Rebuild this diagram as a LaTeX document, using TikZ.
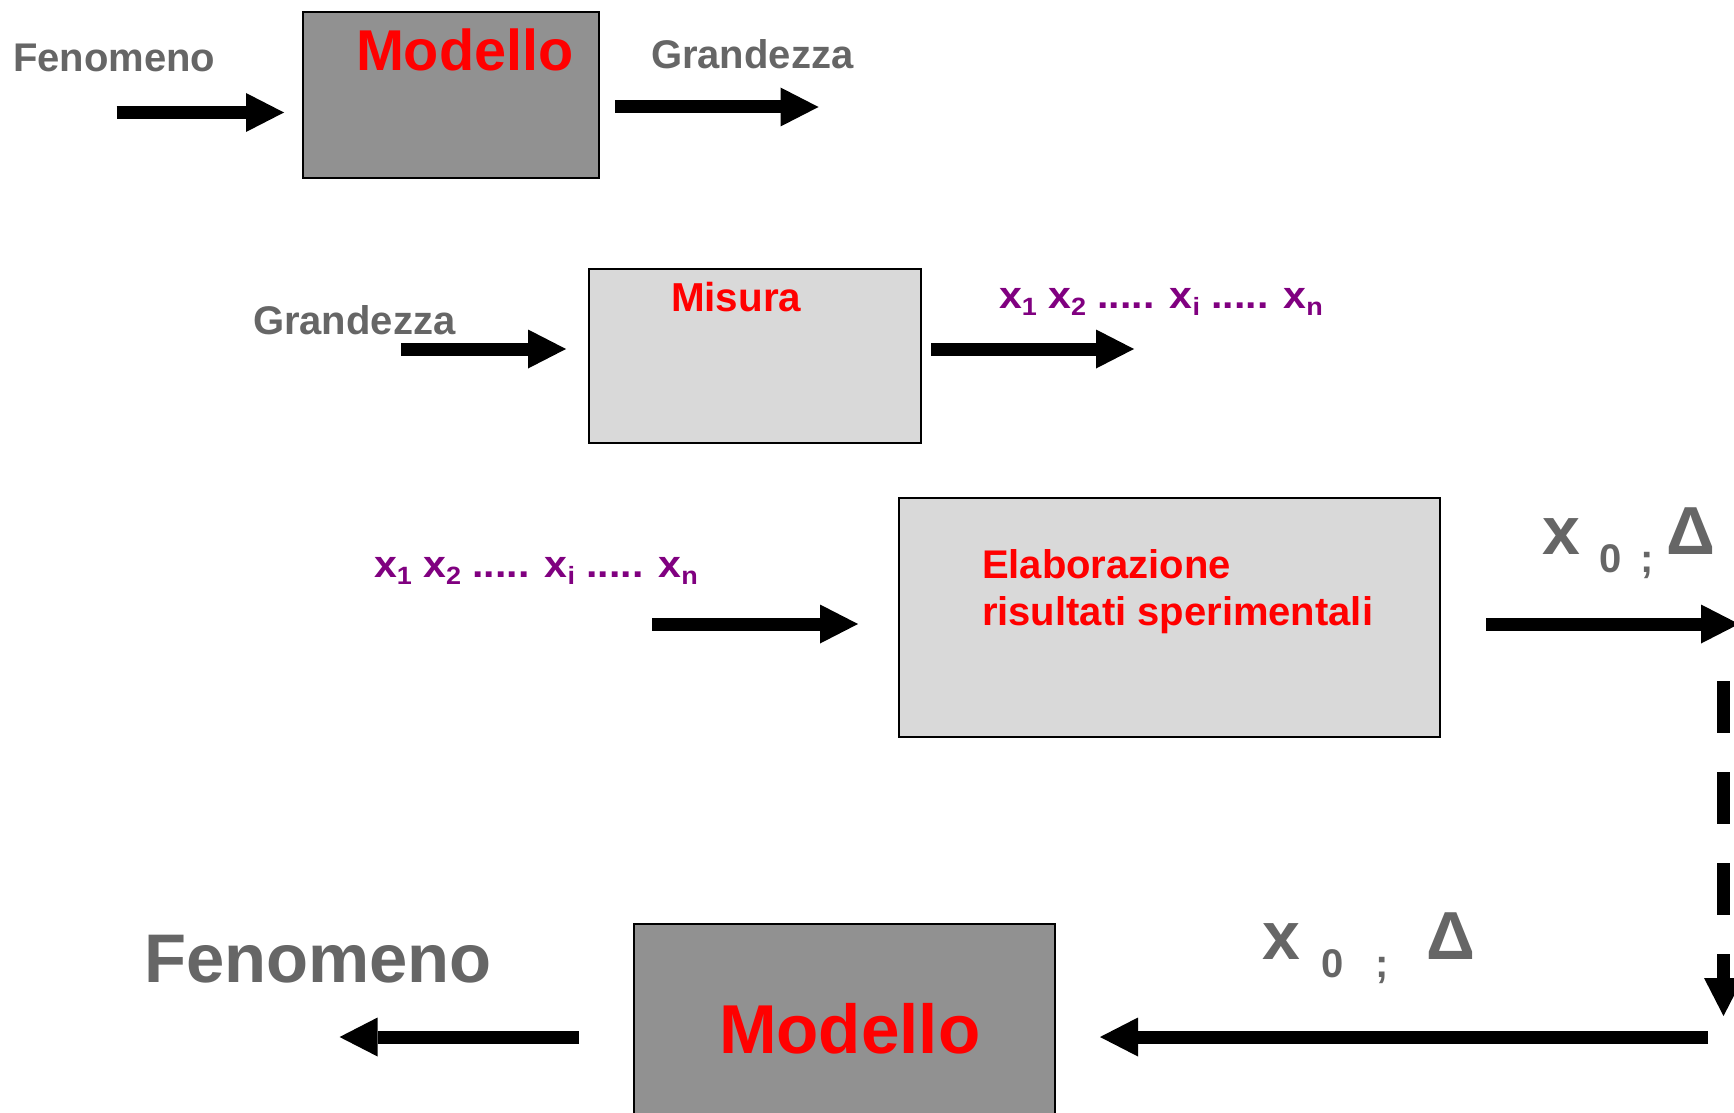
\documentclass[tikz,border=0pt]{standalone}
\usepackage{fontspec}
\setmainfont{Liberation Sans}
\usetikzlibrary{arrows.meta}

\definecolor{txtgray}{HTML}{666666}
\definecolor{boxdark}{HTML}{919191}
\definecolor{boxlight}{HTML}{D9D9D9}
\definecolor{idxpurple}{HTML}{800080}
\definecolor{titlered}{HTML}{FF0000}

% font size in pt, bold sans
\newcommand\fsz[1]{\fontsize{#1pt}{#1pt}\selectfont\bfseries}
% lowered index for the list of readings
\newcommand\idx[1]{\raisebox{-3.5pt}{\fsz{12.5}#1}}

\tikzset{
  darkbox/.style={draw=black, line width=1pt, fill=boxdark, inner sep=0pt},
  lightbox/.style={draw=black, line width=1pt, fill=boxlight, inner sep=0pt},
  lbl/.style={anchor=base west, inner sep=0pt, outer sep=0pt},
  blockarrow/.style={line width=6.5pt,
    -{Triangle[length=19pt, width=19.5pt, line width=0pt]}},
}

\begin{document}
\begin{tikzpicture}[x=0.5pt, y=-0.5pt]
\useasboundingbox (0,0) rectangle (1734,1113);
\clip (0,0) rectangle (1734,1113);
\fill[white] (0,0) rectangle (1734,1113);

% ---- row 1: model of the phenomenon
\node[darkbox, minimum width=148pt, minimum height=83pt] (mod1) at (451,95) {};
\node[lbl, text=titlered, font=\fsz{28.8}] (mod1t) at (356,71) {Modello};
\node[lbl, text=txtgray, font=\fsz{20}] (fen1) at (13,72) {Fenomeno};
\node[lbl, text=txtgray, font=\fsz{20}] (gr1) at (651,69) {Grandezza};
\coordinate (a1s) at (116.5,112.5);
\coordinate (a1e) at (284,112.5);
\coordinate (a2s) at (615,107);
\coordinate (a2e) at (818.5,107);
\draw[blockarrow] (a1s) -- (a1e);
\draw[blockarrow] (a2s) -- (a2e);

% ---- row 2: measurement
\node[lightbox, minimum width=166pt, minimum height=87pt] (mis) at (754.6,356) {};
\node[lbl, text=titlered, font=\fsz{20.2}] (mist) at (671,311) {Misura};
\node[lbl, text=txtgray, font=\fsz{20}] (gr2) at (253,334) {Grandezza};
\node[lbl, text=idxpurple, font=\fsz{19}] (xs1) at (999,308)
  {\scalebox{1.08}[1]{x\idx{1} x\idx{2} ..... x\idx{i} ..... x\idx{n}}};
\coordinate (a3s) at (401,349);
\coordinate (a3e) at (566,349);
\coordinate (a4s) at (931,349);
\coordinate (a4e) at (1134,349);
\draw[blockarrow] (a3s) -- (a3e);
\draw[blockarrow] (a4s) -- (a4e);

% ---- row 3: data processing
\node[lightbox, minimum width=270.5pt, minimum height=119.5pt] (ela) at (1169.5,617.5) {};
\node[lbl, text=titlered, align=left, font={\fontsize{20pt}{23.5pt}\selectfont\bfseries}]
  (elat) at (982,625) {Elaborazione\\risultati sperimentali};
\node[lbl, text=idxpurple, font=\fsz{19}] (xs2) at (374,577)
  {\scalebox{1.08}[1]{x\idx{1} x\idx{2} ..... x\idx{i} ..... x\idx{n}}};
\node[lbl, text=txtgray, font=\fsz{34}] (res1) at (1542,554)
  {x\hspace{10pt}\raisebox{-9pt}{\fsz{20}0\hspace{9pt};}\hspace{6.5pt}Δ};
\coordinate (a5s) at (652,624);
\coordinate (a5e) at (858,624);
\coordinate (a6s) at (1486,624);
\coordinate (a6e) at (1739,624);
\draw[blockarrow] (a5s) -- (a5e);
\draw[blockarrow] (a6s) -- (a6e);

% ---- feedback to the model
\coordinate (dtop) at (1723.5,681);
\coordinate (dbot) at (1723.5,1016);
\draw[blockarrow, dash pattern=on 26pt off 19.5pt] (dtop) -- (dbot);

% ---- row 4: model back to the phenomenon
\node[darkbox, minimum width=210.5pt, minimum height=103pt] (mod2) at (844.5,1027) {};
\node[lbl, text=titlered, font=\fsz{34.6}] (mod2t) at (719,1053) {Modello};
\node[lbl, text=txtgray, font=\fsz{34.4}] (fen2) at (144,982) {Fenomeno};
\node[lbl, text=txtgray, font=\fsz{34}] (res2) at (1262,959)
  {x\hspace{11pt}\raisebox{-9pt}{\fsz{20}0\hspace{15.5pt};}\hspace{19pt}Δ};
\coordinate (a7s) at (1708,1037);
\coordinate (a7e) at (1100,1037);
\coordinate (a8s) at (579,1037);
\coordinate (a8e) at (339.6,1037);
\draw[blockarrow] (a7s) -- (a7e);
\draw[blockarrow] (a8s) -- (a8e);
\end{tikzpicture}
\end{document}
